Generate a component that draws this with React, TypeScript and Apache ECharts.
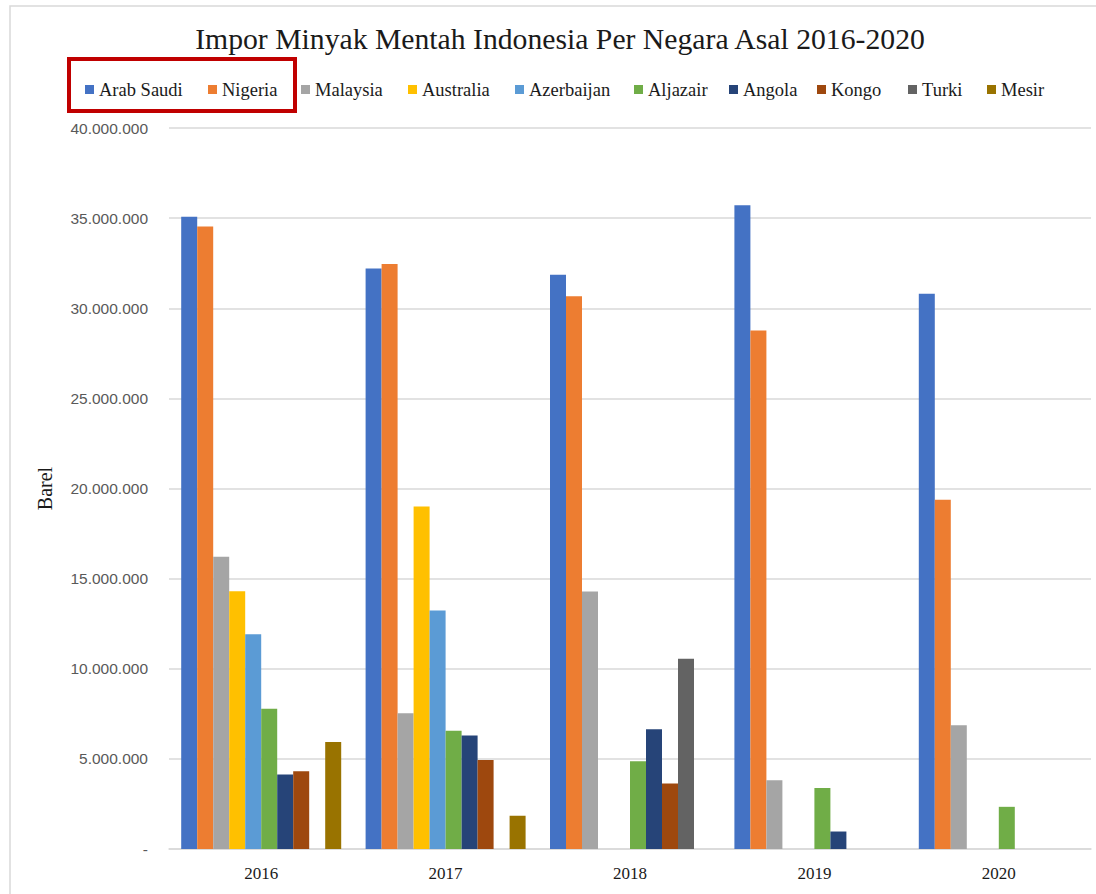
import React, { useEffect, useRef } from "react";
import * as echarts from "echarts";

const years = ["2016", "2017", "2018", "2019", "2020"];
const countries = ["Arab Saudi", "Nigeria", "Malaysia", "Australia", "Azerbaijan", "Aljazair", "Angola", "Kongo", "Turki", "Mesir"];
const colors = ["#4472C4", "#ED7D31", "#A5A5A5", "#FFC000", "#5B9BD5", "#70AD47", "#264478", "#9E480E", "#636363", "#997300"];

const arabSaudi = [35070000, 32210000, 31860000, 35720000, 30800000];
const nigeria = [34530000, 32450000, 30670000, 28770000, 19370000];
const malaysia = [16210000, 7530000, 14290000, 3820000, 6860000];
const australia = [14300000, 19000000, null, null, null];
const azerbaijan = [11920000, 13230000, null, null, null];
const aljazair = [7780000, 6560000, 4870000, 3380000, 2340000];
const angola = [4140000, 6300000, 6650000, 970000, null];
const kongo = [4320000, 4940000, 3640000, null, null];
const turki = [null, null, 10560000, null, null];
const mesir = [5930000, 1840000, null, null, null];

const seriesValues = [arabSaudi, nigeria, malaysia, australia, azerbaijan, aljazair, angola, kongo, turki, mesir];
const legendLeft = [85, 208, 301, 408, 515, 634, 729, 817, 908, 987];

const SERIF = "'Liberation Serif', 'Times New Roman', serif";
const SANS = "'Liberation Sans', Arial, sans-serif";

function fmt(v: number): string {
  if (v === 0) return "-";
  return String(Math.round(v)).replace(/\B(?=(\d{3})+(?!\d))/g, ".");
}

export default function App() {
  const ref = useRef<HTMLDivElement>(null);
  useEffect(() => {
    if (!ref.current) return;
    const chart = echarts.init(ref.current, undefined, { renderer: "svg" });
    chart.setOption({
      animation: false,
      backgroundColor: "#ffffff",
      title: {
        text: "Impor Minyak Mentah Indonesia Per Negara Asal 2016-2020",
        left: 560,
        textAlign: "center",
        top: 24,
        padding: 0,
        textStyle: { fontFamily: SERIF, fontSize: 29.7, fontWeight: "normal", color: "#1a1a1a" },
      },
      legend: countries.map((c, i) => ({
        data: [c],
        left: legendLeft[i],
        top: 80,
        padding: 0,
        itemWidth: 9,
        itemHeight: 9,
        icon: "rect",
        textStyle: { fontFamily: SERIF, fontSize: 18.5, color: "#1a1a1a", lineHeight: 18 },
      })),
      graphic: [
        {
          type: "rect",
          shape: { x: 10, y: 6, width: 1100, height: 900 },
          style: { fill: "none", stroke: "#D9D9D9", lineWidth: 1.5 },
          silent: true,
          z: -10,
        },
        {
          type: "rect",
          shape: { x: 69, y: 59, width: 226, height: 52 },
          style: { fill: "none", stroke: "#C00000", lineWidth: 4 },
          silent: true,
          z: 100,
        },
      ],
      grid: { left: 169, top: 128, width: 922, height: 721, containLabel: false },
      xAxis: {
        type: "category",
        data: years,
        axisLine: { lineStyle: { color: "#D9D9D9", width: 1.5 } },
        axisTick: { show: false },
        axisLabel: { fontFamily: SERIF, fontSize: 17, color: "#1a1a1a", margin: 16 },
      },
      yAxis: {
        type: "value",
        min: 0,
        max: 40000000,
        interval: 5000000,
        name: "Barel",
        nameLocation: "middle",
        nameRotate: 90,
        nameGap: 114,
        nameTextStyle: { fontFamily: SERIF, fontSize: 20, color: "#1a1a1a" },
        axisLine: { show: false },
        axisTick: { show: false },
        splitLine: { lineStyle: { color: "#D9D9D9", width: 1.5 } },
        axisLabel: { fontFamily: SANS, fontSize: 15.5, color: "#595959", margin: 21, formatter: fmt },
      },
      series: countries.map((c, i) => ({
        name: c,
        type: "bar",
        data: seriesValues[i],
        barWidth: 16,
        barGap: "0%",
        itemStyle: { color: colors[i] },
      })),
      color: colors,
    });
    return () => chart.dispose();
  }, []);
  return <div ref={ref} style={{ position: "absolute", left: 0, top: 0, width: 1096, height: 894 }} />;
}
